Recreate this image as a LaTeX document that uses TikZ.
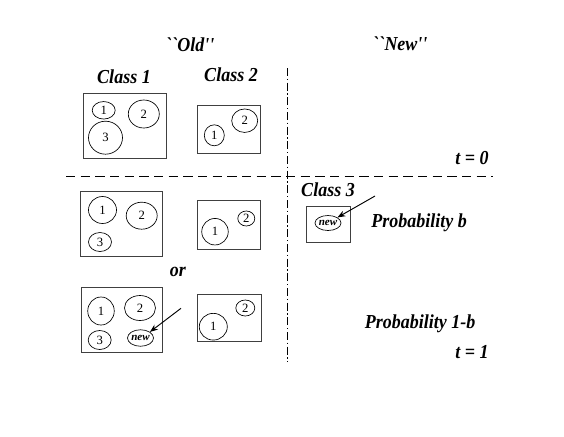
\documentclass[tikz,border=0pt]{standalone}
\usepackage{fontspec}
\usepackage{graphicx}
\setmainfont{Liberation Serif}
\newfontfamily\plainserif{Liberation Serif}
\usetikzlibrary{shapes.geometric,arrows.meta}
\newcommand\tallbox[1]{\scalebox{1}[1.1]{#1}}
\begin{document}
\begin{tikzpicture}[x=0.75pt,y=-0.75pt,
  lbl/.style={font=\fontsize{13.5}{16}\selectfont\bfseries\itshape, inner sep=0pt},
  qlbl/.style={font=\fontsize{13.5}{16}\selectfont\plainserif\bfseries\itshape, inner sep=0pt},
  grp/.style={draw=black!75, line width=0.75pt},
  mem/.style={draw, ellipse, inner sep=0pt, line width=0.5pt, font=\fontsize{9.5}{10}\selectfont},
  newmem/.style={draw, ellipse, inner sep=0pt, line width=0.5pt, font=\fontsize{8.3}{9}\selectfont\bfseries\itshape},
  sz/.style 2 args={minimum width=#1*0.75pt, minimum height=#2*0.75pt},
  ptr/.style={-{Stealth[length=6pt,width=4.5pt]}, line width=0.7pt},
  sep/.style={line width=0.75pt}
]
\useasboundingbox (0,0) rectangle (564,436);
% headers
\node[qlbl] (old) at (190,45) {\tallbox{\symbol{96}\symbol{96}Old''}};
\node[qlbl] (new) at (400,44) {\tallbox{\symbol{96}\symbol{96}New''}};
\node[lbl] (c1) at (124,77) {\tallbox{Class 1}};
\node[lbl] (c2) at (231,75) {\tallbox{Class 2}};
% separators
\coordinate (vtop) at (287.5,68);
\coordinate (vbot) at (287.5,362);
\coordinate (hl) at (66,176);
\coordinate (hr) at (493,176);
\draw[sep, dash pattern=on 6pt off 2pt on 1pt off 2pt] (vtop) -- (vbot);
\draw[sep, dash pattern=on 7pt off 4pt] (hl) -- (hr);
% t=0 row
\draw[grp] (83,93) rectangle (166,158);
\node[mem, sz={23}{17.5}] (a1) at (103.7,110.3) {1};
\node[mem, sz={31}{28}] (a2) at (143.8,114) {2};
\node[mem, sz={34}{33}] (a3) at (105.5,137.7) {3};
\draw[grp] (197.3,105.7) rectangle (260.7,153.3);
\node[mem, sz={20}{21}] (b1) at (214.3,135.3) {1};
\node[mem, sz={26}{23.5}] (b2) at (244.7,120.7) {2};
\node[lbl, anchor=east] (t0) at (489,158) {\tallbox{t = 0}};
% t=1 option 1
\draw[grp] (80.5,191) rectangle (162.3,256);
\node[mem, sz={28}{27}] (d1) at (102.5,210) {1};
\node[mem, sz={31}{27}] (d2) at (141.7,215.7) {2};
\node[mem, sz={23}{19}] (d3) at (100,242) {3};
\draw[grp] (197.3,200) rectangle (260.7,249);
\node[mem, sz={26.5}{26.5}] (e1) at (215,231.7) {1};
\node[mem, sz={17}{15}] (e2) at (246.3,218.5) {2};
\node[lbl] (or) at (178,272) {\tallbox{or}};
% class 3
\node[lbl] (c3) at (328,190) {\tallbox{Class 3}};
\draw[grp] (306,206.5) rectangle (350,242);
\node[newmem, sz={26}{15}] (n3) at (328,223) {\makebox[0pt]{new}};
\coordinate (p3) at (375,196);
\draw[ptr] (p3) -- (n3.north east);
\node[lbl] (pb) at (419,223) {\tallbox{Probability b}};
% t=1 option 2
\draw[grp] (81,287.3) rectangle (162.3,352.7);
\node[mem, sz={26.5}{28}] (f1) at (101,311) {1};
\node[mem, sz={31}{25}] (f2) at (140,308) {2};
\node[mem, sz={23}{19}] (f3) at (99.7,340) {3};
\node[newmem, sz={26}{16.5}] (fn) at (140.5,338) {\makebox[0pt]{new}};
\coordinate (pf) at (181,308.3);
\draw[ptr] (pf) -- (fn.north east);
\draw[grp] (197.3,294) rectangle (261.7,341.7);
\node[mem, sz={28}{26.7}] (g1) at (213.3,326.7) {1};
\node[mem, sz={19}{16}] (g2) at (245.3,308) {2};
\node[lbl] (p1b) at (420,324) {\tallbox{Probability 1-b}};
\node[lbl, anchor=east] (t1) at (489,352) {\tallbox{t = 1}};
\end{tikzpicture}
\end{document}
